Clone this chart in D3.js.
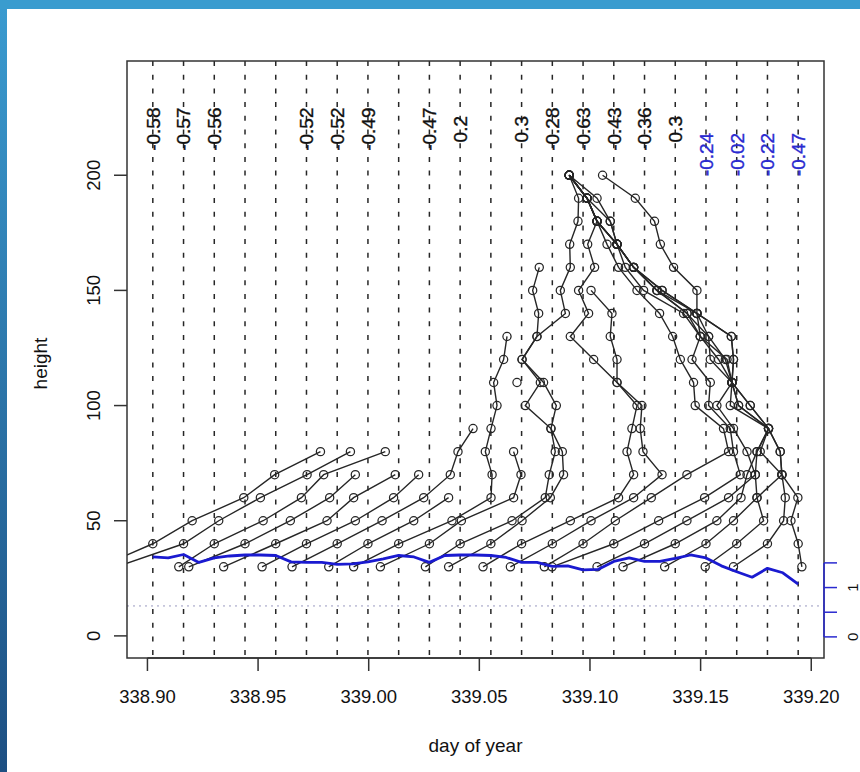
<!DOCTYPE html>
<html>
<head>
<meta charset="utf-8">
<script src="https://cdn.jsdelivr.net/npm/d3@7"></script>
<style>
  html, body { margin: 0; padding: 0; background: #fff; overflow: hidden; }
  svg { display: block; font-family: "Liberation Sans", Arial, Helvetica, sans-serif; }
</style>
</head>
<body>
<svg id="chart" width="860" height="772"></svg>
<script>
// ---- data (times in minutes after day 338.90) ----
const DAY0 = 338.9;
const heights = [30, 40, 50, 60, 70, 80, 90, 100, 110, 120, 130, 140, 150, 160, 170, 180, 190, 200];

// one dashed line per profile
const lineMinutes = [3.5, 23.5, 43.5, 63.5, 83.5, 103.5, 123.5, 143.5, 163.5, 183.5, 203.5,
  223.5, 243.5, 263.5, 283.5, 303.5, 323.5, 343.5, 363.5, 383.5, 403.5, 423.5];
const lineLabels = ['-0.58', '-0.57', '-0.56', '', '', '-0.52', '-0.52', '-0.49', '', '-0.47', '0.2',
  '', '0.3', '-0.28', '-0.63', '-0.43', '-0.36', '0.3', '-0.24', '-0.02', '-0.22', '-0.47'];

// profile points: time (min) at heights 30, 40, 50 ...
const p00 = [-31.2, 3.5, 29.1, 62.7, 82.8, 112.6];
const p01 = [-20.2, 23.5, 46.4, 73.5, 103.9, 132.1];
const p02 = [20.4, 43.5, 75.3, 100.2, 114.7, 154.8];
const p03 = [26.9, 63.5, 93.0, 118.6, 135.3];
const p04 = [49.6, 83.5, 116.9, 134.2, 161.3];
const p05 = [74.6, 103.5, 135.3, 160.2, 176.5];
const p06 = [94.1, 123.5, 152.7, 179.8, 197.1, 202.1, 211.9];
const p07 = [118.0, 143.5, 173.3, 196.0];
const p08 = [134.2, 163.5, 198.2, 223.6, 224.3, 219.9, 223.6, 227.5, 225.3, 231.8, 234.0];
const p09 = [151.6, 183.5, 204.3, 238.3, 243.1, 238.3, null, null, 240.5];
const p10 = [180.9, 203.5, 237.3, 258.9, 261.5, 265.4, 262.6, 245.9, 255.7, 243.8, 253.5, 272.0, 268.7, 275.2, 274.8, 280.2, 280.6, 274.5];
const p11 = [196.0, 223.5, 243.8, 262.2, 270.8, 270.0, 262.6, 266.1, 257.8, 243.8, 253.5, 254.6, 250.7, 255.0];
const p12 = [218.4, 243.5, 275.2, 306.6, 316.4, 312.1, 315.3, 318.6, 305.6, 290.4, 275.2, 287.1, 280.6, 291.0, 286.5, 292.6, 286.1, 274.5];
const p13 = [236.2, 263.5, 288.7, 316.4, 334.9, 322.5, 320.7, 321.8, 305.6, 305.6, 301.2, 302.3, 288.7];
const p14 = [258.3, 283.5, 304.5, 327.9, 351.1, 378.2, 374.9, 356.5, 355.4, 346.8, 341.8, 333.3, 318.6, 306.6, 299.1, 292.6, 286.1, 274.5];
const p15 = [263.3, 303.5, 332.7, 362.6, 385.8, 381.4, 379.3, 365.2, 366.3, 354.4, 359.8, 348.9, 322.9, 311.0, 305.6, 292.6, 286.1, 274.5];
const p16 = [292.6, 323.5, 351.1, 378.2, 395.6, 390.2, 381.4, 370.6, 380.4, 366.3, 365.2, 351.1, 331.6, 316.4, 305.6, 301.2, 286.1, 274.5];
const p17 = [309.5, 343.5, 370.6, 386.3, 390.2, 396.7, 404.2, 379.3, 380.4, 371.7, 359.8, 357.6, 334.9, 316.4, 305.6, 292.6, 286.1, 274.5];
const p18 = [336.6, 363.5, 381.4, 396.7, 412.9, 398.8, 404.2, 384.7, 380.4, 377.2, 359.8, 351.3, 331.6, 316.4, 305.6, 301.2, 292.6, 274.5];
const p19 = [363.0, 383.5, 401.0, 396.7, 395.6, 396.7, 404.2, 392.3, 380.4, 381.4, 380.0, 357.6, 334.9, 316.4, 305.6, 292.6, 286.1, 274.5];
const p20 = [381.4, 403.5, 414.0, 415.1, 412.9, 411.8, 404.2, 384.7, 380.4, 376.1, 365.2, 357.6, 331.6, 316.4, 305.6, 292.6, 286.1, 274.5];
const p21 = [425.9, 423.5, 418.8, 423.3, 412.9, 411.8, 404.2, 392.3, 380.4, 381.4, 380.0, 357.6, 357.6, 342.4, 333.8, 330.0, 317.5, 296.2];
const profiles = [p00, p01, p02, p03, p04, p05, p06, p07, p08, p09, p10,
  p11, p12, p13, p14, p15, p16, p17, p18, p19, p20, p21];

// blue series (right axis), every 10 minutes
const blueMinutes = [3.5, 13.5, 23.5, 33.5, 43.5, 53.5, 63.5, 73.5, 83.5, 93.5, 103.5,
  113.5, 123.5, 133.5, 143.5, 153.5, 163.5, 173.5, 183.5, 193.5, 203.5, 213.5,
  223.5, 233.5, 243.5, 253.5, 263.5, 273.5, 283.5, 293.5, 303.5, 313.5, 323.5,
  333.5, 343.5, 353.5, 363.5, 373.5, 383.5, 393.5, 403.5, 413.5, 423.5];
const blueValues = [1.62, 1.60, 1.67, 1.51, 1.60, 1.64, 1.66, 1.66, 1.65, 1.52, 1.51,
  1.51, 1.47, 1.48, 1.52, 1.58, 1.65, 1.62, 1.51, 1.65, 1.66, 1.66,
  1.65, 1.61, 1.51, 1.51, 1.43, 1.44, 1.36, 1.37, 1.53, 1.60, 1.53,
  1.53, 1.59, 1.66, 1.60, 1.44, 1.32, 1.21, 1.39, 1.30, 1.07];

const xTicks = [338.90, 338.95, 339.00, 339.05, 339.10, 339.15, 339.20];
const yTicks = [0, 50, 100, 150, 200];
const blueTicks = [0, 0.5, 1.0, 1.5];
const blueTickLabels = ['0', '', '1', ''];
const refHeight = 13;

// ---- layout ----
const svg = d3.select('#chart');
const W = 860, H = 772;
const box = {left: 127, right: 824, top: 61, bottom: 658};
const toDay = m => DAY0 + m / 1440;
const txt = '#111';
const ink = '#262626';

// slide frame
const defs = svg.append('defs');
const grad = defs.append('linearGradient').attr('id', 'side').attr('x1', 0).attr('x2', 0).attr('y1', 0).attr('y2', 1);
grad.append('stop').attr('offset', '0%').attr('stop-color', '#3a9bd0');
grad.append('stop').attr('offset', '100%').attr('stop-color', '#1d4f82');
svg.append('rect').attr('x', 0).attr('y', 0).attr('width', 7).attr('height', H).attr('fill', 'url(#side)');
svg.append('rect').attr('x', 0).attr('y', 0).attr('width', W).attr('height', 9).attr('fill', '#3a9ccf');

defs.append('clipPath').attr('id', 'plotclip')
  .append('rect')
  .attr('x', box.left).attr('y', box.top)
  .attr('width', box.right - box.left).attr('height', box.bottom - box.top);

// scales (R style 4% padding)
const tMin = toDay(d3.min(lineMinutes));
const tMax = toDay(d3.max(lineMinutes));
const padX = (tMax - tMin) * 0.04;
const x = d3.scaleLinear().domain([tMin - padX, tMax + padX]).range([box.left, box.right]);
const y = d3.scaleLinear().domain([0 - 240 * 0.04, 240 + 240 * 0.04]).range([box.bottom, box.top]);
const yb = d3.scaleLinear().domain([0, 1.5]).range([y(0) + 1, y(0) - 73]);

const plot = svg.append('g').attr('clip-path', 'url(#plotclip)');

// dashed vertical lines
plot.selectAll('line.v').data(lineMinutes).join('line')
  .attr('class', 'v')
  .attr('x1', d => x(toDay(d))).attr('x2', d => x(toDay(d)))
  .attr('y1', box.top).attr('y2', box.bottom)
  .attr('stroke', ink).attr('stroke-width', 1.5)
  .attr('stroke-dasharray', '5,8.7');

// dotted reference line
plot.append('line')
  .attr('x1', box.left).attr('x2', box.right)
  .attr('y1', y(refHeight)).attr('y2', y(refHeight))
  .attr('stroke', '#9a9ac0').attr('stroke-width', 1)
  .attr('stroke-dasharray', '2,4');

// profiles
const line = d3.line()
  .defined(d => d.t !== null && d.t !== undefined)
  .x(d => x(toDay(d.t)))
  .y(d => y(d.h));

profiles.forEach(p => {
  const pts = p.map((t, i) => ({t: t, h: heights[i]}));
  plot.append('path')
    .datum(pts)
    .attr('d', line)
    .attr('fill', 'none')
    .attr('stroke', ink)
    .attr('stroke-width', 1.4);
  plot.append('g').selectAll('circle')
    .data(pts.filter(d => d.t !== null))
    .join('circle')
    .attr('cx', d => x(toDay(d.t)))
    .attr('cy', d => y(d.h))
    .attr('r', 4.1)
    .attr('fill', 'none')
    .attr('stroke', ink)
    .attr('stroke-width', 1.25);
});

// blue series
plot.append('path')
  .datum(blueMinutes.map((m, i) => [m, blueValues[i]]))
  .attr('d', d3.line().x(d => x(toDay(d[0]))).y(d => yb(d[1])))
  .attr('fill', 'none')
  .attr('stroke', '#1a1ad0')
  .attr('stroke-width', 2.8)
  .attr('stroke-linejoin', 'round');

// profile labels
const blueFrom = 18;
svg.append('g').selectAll('text')
  .data(lineLabels.map((s, i) => ({s: s, i: i})).filter(d => d.s !== ''))
  .join('text')
  .attr('transform', d => `translate(${x(toDay(lineMinutes[d.i]))},${y(d.i >= blueFrom ? 209 : 220)}) rotate(-90)`)
  .attr('text-anchor', 'middle')
  .attr('dy', '0.36em')
  .attr('font-size', 19)
  .attr('fill', d => d.i >= blueFrom ? '#2a2ad0' : txt)
  .attr('stroke', d => d.i >= blueFrom ? '#2a2ad0' : txt)
  .attr('stroke-width', 0.35)
  .text(d => d.s);

// box
svg.append('rect')
  .attr('x', box.left).attr('y', box.top)
  .attr('width', box.right - box.left).attr('height', box.bottom - box.top)
  .attr('fill', 'none').attr('stroke', '#333').attr('stroke-width', 1.5);

// x axis
const xa = svg.append('g');
xa.append('line').attr('x1', x(xTicks[0])).attr('x2', x(xTicks[xTicks.length - 1]))
  .attr('y1', box.bottom).attr('y2', box.bottom).attr('stroke', '#333').attr('stroke-width', 1.5);
xa.selectAll('line.t').data(xTicks).join('line').attr('class', 't')
  .attr('x1', d => x(d)).attr('x2', d => x(d))
  .attr('y1', box.bottom).attr('y2', box.bottom + 13)
  .attr('stroke', '#333').attr('stroke-width', 1.5);
xa.selectAll('text').data(xTicks).join('text')
  .attr('x', d => x(d)).attr('y', 703)
  .attr('text-anchor', 'middle').attr('font-size', 18.5).attr('fill', txt)
  .text(d => d3.format('.2f')(d));

// y axis
const ya = svg.append('g');
ya.selectAll('line').data(yTicks).join('line')
  .attr('x1', box.left - 13).attr('x2', box.left)
  .attr('y1', d => y(d)).attr('y2', d => y(d))
  .attr('stroke', '#333').attr('stroke-width', 1.5);
ya.selectAll('text').data(yTicks).join('text')
  .attr('transform', d => `translate(100,${y(d)}) rotate(-90)`)
  .attr('text-anchor', 'middle').attr('font-size', 18.5).attr('fill', txt)
  .text(d => d);

// right (blue) axis
const ra = svg.append('g');
ra.append('line').attr('x1', box.right).attr('x2', box.right)
  .attr('y1', yb(blueTicks[0])).attr('y2', yb(blueTicks[blueTicks.length - 1]))
  .attr('stroke', '#2a2ad0').attr('stroke-width', 1.5);
ra.selectAll('line.t').data(blueTicks).join('line').attr('class', 't')
  .attr('x1', box.right).attr('x2', box.right + 13)
  .attr('y1', d => yb(d)).attr('y2', d => yb(d))
  .attr('stroke', '#2a2ad0').attr('stroke-width', 1.5);
ra.selectAll('text').data(blueTicks).join('text')
  .attr('transform', d => `translate(858,${yb(d)}) rotate(-90)`)
  .attr('text-anchor', 'middle').attr('font-size', 15).attr('fill', txt)
  .text((d, i) => blueTickLabels[i]);

// axis titles
svg.append('text').attr('x', (box.left + box.right) / 2).attr('y', 752)
  .attr('text-anchor', 'middle').attr('font-size', 19).attr('fill', txt)
  .text('day of year');
svg.append('text')
  .attr('transform', `translate(47,${(box.top + box.bottom) / 2 + 4}) rotate(-90)`)
  .attr('text-anchor', 'middle').attr('font-size', 19).attr('fill', txt)
  .text('height');
</script>
</body>
</html>
